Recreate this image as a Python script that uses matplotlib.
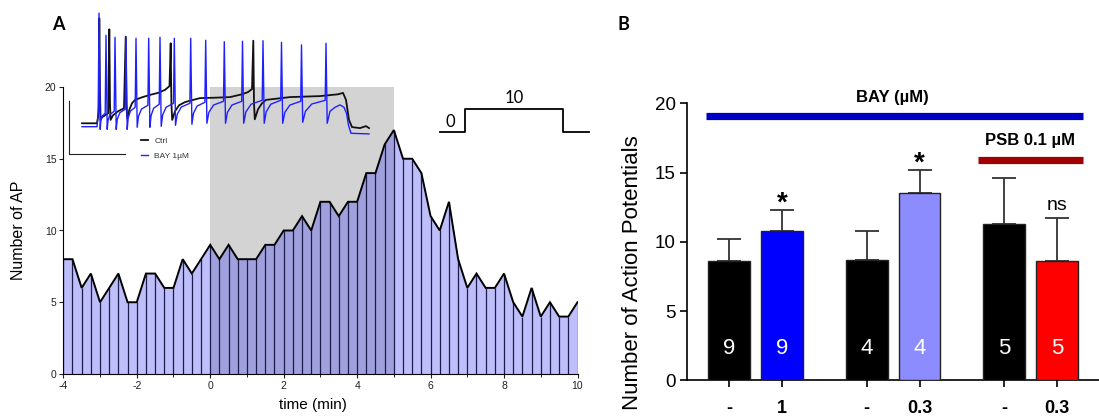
import numpy as np
import matplotlib
matplotlib.use("Agg")
import matplotlib.pyplot as plt
from matplotlib.ticker import MultipleLocator

plt.rcParams['font.family'] = ['Liberation Sans', 'DejaVu Sans']
plt.rcParams['axes.unicode_minus'] = False

# ---------------- Panel A: AP count per 15 s bin ----------------
ap_time = np.arange(-4.0, 10.001, 0.25)
ap_count = [8, 8, 6, 7, 5, 6, 7, 5, 5, 7, 7, 6, 6, 8, 7, 8,
            9, 8, 9, 8, 8, 8, 9, 9, 10, 10, 11, 10, 12, 12, 11, 12, 12, 14, 14, 16, 17,
            15, 15, 14, 11, 10, 12, 8, 6, 7, 6, 6, 7, 5, 4, 6, 4, 5, 4, 4, 5]
drug_window = (0.0, 5.0)

# Example traces (ms, mV): control vertices
ctrl_t = [0, 150, 160, 168, 173, 180, 186, 200, 230, 262, 273, 280, 286, 310, 360, 420,
          437, 444, 452, 475, 500, 530, 600, 680, 760, 830, 875, 887, 894, 902, 930, 970,
          1030, 1180, 1330, 1480, 1600, 1660, 1700, 1713, 1720, 1728, 1760, 1800, 1840,
          2080, 2380, 2560, 2610, 2640, 2670, 2700, 2780, 2840, 2870]
ctrl_v = [-60, -60, -57, -52, -7.5, -45, -58.3, -57, -56, -55, -13, -50, -58.3, -56, -54, -52.5,
          -16.7, -50, -57.5, -53, -50, -48.3, -47, -45.8, -44.8, -43.3, -41.4, -20, -50, -58.3, -54, -51,
          -49.4, -47.4, -47.2, -46.9, -45.5, -44.4, -42.9, -18.7, -50, -58, -53, -50, -48.3,
          -46.9, -46.4, -45.5, -44.8, -48.3, -58.3, -61.9, -62.4, -61.4, -62.4]

# BAY 1 uM trace: spikes (time, peak, trough, threshold)
bay_spike_t = [170, 240, 330, 440, 540, 667, 780, 923, 1087, 1237, 1423, 1605, 1810, 1995, 2195, 2440]
bay_peak = [-4.9, -16, -17, -17, -17.5, -17.5, -17, -17.5, -17.5, -18.5, -19.2, -19, -18.7, -19.5, -20.8, -20]
bay_trough = [-63, -63, -63, -63, -62, -62, -61.5, -61, -60.5, -60, -60, -60, -60, -60, -59.5, -60]
bay_thresh = [-55, -55, -54, -53, -52, -51, -50.5, -50, -50, -49.5, -49, -49, -48.5, -48.5, -49, -48.5]
bay_rest_t, bay_rest_v = [0, 150], [-61.7, -61.7]
bay_tail_t = [2480, 2530, 2580, 2620, 2645, 2665, 2690, 2870]
bay_tail_v = [-54, -52, -50.8, -52, -55, -61, -65, -65.3]

scale_ms, scale_mv = 560, 26.5

# stimulation protocol (arbitrary time units, level)
prot_t = [0, 1.0, 1.0, 4.95, 4.95, 6.0]
prot_v = [0, 0, 10, 10, 0, 0]

# ---------------- Panel B: summary ----------------
bar_pos = [0, 1, 2.6, 3.6, 5.2, 6.2]
bar_mean = [8.6, 10.8, 8.7, 13.5, 11.3, 8.6]
bar_sem = [1.6, 1.5, 2.1, 1.7, 3.3, 3.1]
bar_n = [9, 9, 4, 4, 5, 5]
bar_colors = ['#000000', '#0000ff', '#000000', '#8c8cff', '#000000', '#ff0000']
bar_xlabels = ['-', '1', '-', '0.3', '-', '0.3']
bar_sig = ['', '*', '', '*', '', 'ns']


def build_spike_trace(rest_t, rest_v, times, peaks, troughs, thresholds, tail_t, tail_v):
    t, v = list(rest_t), list(rest_v)
    for i, (ts, pk, tr, th) in enumerate(zip(times, peaks, troughs, thresholds)):
        t += [ts - 8, ts, ts + 12]
        v += [th, pk, tr]
        if i + 1 < len(times):
            a, b = ts + 12, times[i + 1] - 8
            g = b - a
            th_next = thresholds[i + 1]
            t += [a + 0.12 * g, a + 0.4 * g]
            v += [tr + 0.5 * (th_next - tr), tr + 0.83 * (th_next - tr)]
    return t + list(tail_t), v + list(tail_v)


W, H = 1099, 419
fig = plt.figure(figsize=(W / 100, H / 100), dpi=100)


def px_rect(x0, y0, x1, y1):
    return [x0 / W, 1 - y1 / H, (x1 - x0) / W, (y1 - y0) / H]


# ---- Panel A main axes ----
axA = fig.add_axes(px_rect(63.3, 87, 577.5, 374))
axA.axvspan(*drug_window, color='#d3d3d3', zorder=0, lw=0)
t_arr = np.asarray(ap_time)
c_arr = np.asarray(ap_count, dtype=float)
inside = (t_arr >= drug_window[0]) & (t_arr <= drug_window[1])
outside_lo = t_arr <= drug_window[0]
outside_hi = t_arr >= drug_window[1]
axA.fill_between(t_arr, c_arr, where=outside_lo, color='#bebefa', lw=0, zorder=1)
axA.fill_between(t_arr, c_arr, where=outside_hi, color='#bebefa', lw=0, zorder=1)
axA.fill_between(t_arr, c_arr, where=inside, color='#a0a0dc', lw=0, zorder=1)
axA.vlines(t_arr, 0, c_arr, color='#1c1c4c', lw=0.9, zorder=2)
axA.plot(t_arr, c_arr, color='black', lw=1.4, zorder=3, solid_joinstyle='miter')
axA.set_xlim(-4, 10)
axA.set_ylim(0, 20)
axA.set_xticks([-4, -2, 0, 2, 4, 6, 8, 10])
axA.set_yticks([0, 5, 10, 15, 20])
axA.xaxis.set_minor_locator(MultipleLocator(1))
axA.tick_params(labelsize=7.5, length=3, width=0.8, pad=2, colors='#222222')
axA.tick_params(which='minor', length=2, width=0.6)
for s in ['top', 'right']:
    axA.spines[s].set_visible(False)
for s in ['left', 'bottom']:
    axA.spines[s].set_linewidth(0.8)
axA.set_ylabel('Number of AP', fontsize=11.5)
axA.yaxis.set_label_coords(-0.072, 0.5)
axA.set_xlabel('time (min)', fontsize=11)
axA.xaxis.set_label_coords(0.4846, -0.085)
fig.text(58 / W, 1 - 25 / H, 'A', fontsize=13, fontweight='bold', ha='center', va='center',
         family=['Lato', 'DejaVu Sans'])

# ---- Inset with example traces ----
axI = fig.add_axes(px_rect(60, 5, 380, 160))
axI.set_facecolor('none')
axI.set_xlim(-220, 2980)
axI.set_ylim(-78.35, -0.85)
axI.axis('off')
bt, bv = build_spike_trace(bay_rest_t, bay_rest_v, bay_spike_t, bay_peak, bay_trough, bay_thresh,
                           bay_tail_t, bay_tail_v)
l_ctrl, = axI.plot(ctrl_t, ctrl_v, color='#111111', lw=1.3, label='Ctrl')
l_bay, = axI.plot(bt, bv, color='#2020ff', lw=1.0, label='BAY 1µM')
sb_x0, sb_y0 = -127, -75.35
axI.plot([sb_x0, sb_x0, sb_x0 + scale_ms], [sb_y0 + scale_mv, sb_y0, sb_y0], color='#222222', lw=0.8)
leg = axI.legend(handles=[l_ctrl, l_bay], loc='upper left', bbox_to_anchor=(0.253, 0.15),
                 frameon=False, fontsize=6, handlelength=0.9, handletextpad=0.7,
                 labelspacing=0.85, borderpad=0, borderaxespad=0)
for txt in leg.get_texts():
    txt.set_color('#333333')

# ---- Stimulation protocol ----
axP = fig.add_axes(px_rect(440, 109, 589, 132))
axP.set_facecolor('none')
axP.axis('off')
axP.set_xlim(0, 6)
axP.set_ylim(0, 10)
axP.plot(prot_t, prot_v, color='black', lw=1.3, clip_on=False)
axP.text(0.4, 4.3, '0', ha='center', va='center', fontsize=12, family=['Lato', 'DejaVu Sans'])
axP.text(2.98, 14.8, '10', ha='center', va='center', fontsize=12, family=['Lato', 'DejaVu Sans'])

# ---- Panel B ----
axB = fig.add_axes(px_rect(687, 103.3, 1098.5, 380.3))
axB.errorbar(bar_pos, bar_mean, yerr=[np.zeros(len(bar_sem)), bar_sem], fmt='none',
             ecolor='#333333', elinewidth=1.3, capsize=8.3, capthick=1.3, zorder=2)
axB.bar(bar_pos, bar_mean, width=0.79, color=bar_colors, edgecolor='#222222', lw=1.0, zorder=3)
for x, m, e, n, s in zip(bar_pos, bar_mean, bar_sem, bar_n, bar_sig):
    axB.text(x, 2.3, str(n), color='white', ha='center', va='center', fontsize=16, zorder=4)
    if s == '*':
        axB.text(x, m + e + 0.45, s, ha='center', va='center', fontsize=20, fontweight='bold')
    elif s:
        axB.text(x, m + e + 0.9, s, ha='center', va='center', fontsize=14)
axB.set_xlim(-0.792, 6.98)
axB.set_ylim(0, 20)
axB.set_yticks([0, 5, 10, 15, 20])
axB.set_xticks(bar_pos)
axB.set_xticklabels(bar_xlabels, fontweight='bold', fontsize=13)
axB.tick_params(axis='y', labelsize=13.5, length=5, width=1.2, pad=3)
axB.tick_params(axis='x', length=5, width=1.2, pad=9)
for s in ['top', 'right']:
    axB.spines[s].set_visible(False)
for s in ['left', 'bottom']:
    axB.spines[s].set_linewidth(1.2)
axB.set_ylabel('Number of Action Potentials', fontsize=16)
axB.yaxis.set_label_coords(-0.107, 0.39)

axB.plot([-0.43, 6.68], [19.1, 19.1], color='#0000c4', lw=5.2, solid_capstyle='butt', clip_on=False)
axB.text(3.09, 20.45, 'BAY (µM)', ha='center', va='center', fontsize=12, fontweight='bold')
axB.plot([4.70, 6.68], [15.9, 15.9], color='#a00000', lw=5.2, solid_capstyle='butt', clip_on=False)
axB.text(5.69, 17.3, 'PSB 0.1 µM', ha='center', va='center', fontsize=12, fontweight='bold')
fig.text(623 / W, 1 - 25 / H, 'B', fontsize=13, fontweight='bold', ha='center', va='center',
         family=['Lato', 'DejaVu Sans'])

fig.savefig('out.png', dpi=100)
